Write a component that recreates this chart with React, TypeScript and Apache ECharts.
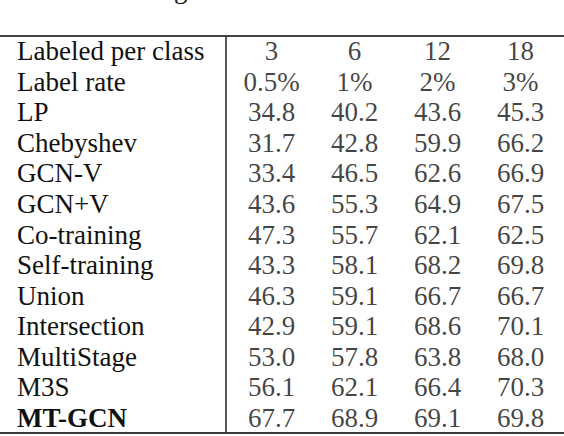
import React, { useEffect, useRef } from "react";
import * as echarts from "echarts";

const headerLabels = ["Labeled per class", "Label rate"];
const methods = [
  "LP",
  "Chebyshev",
  "GCN-V",
  "GCN+V",
  "Co-training",
  "Self-training",
  "Union",
  "Intersection",
  "MultiStage",
  "M3S",
  "MT-GCN",
];
const boldMethods = ["MT-GCN"];
const labeledPerClass = ["3", "6", "12", "18"];
const labelRates = ["0.5%", "1%", "2%", "3%"];

// accuracy per column (labeled per class 3, 6, 12, 18), rows in methods order
const acc3 = [34.8, 31.7, 33.4, 43.6, 47.3, 43.3, 46.3, 42.9, 53.0, 56.1, 67.7];
const acc6 = [40.2, 42.8, 46.5, 55.3, 55.7, 58.1, 59.1, 59.1, 57.8, 62.1, 68.9];
const acc12 = [43.6, 59.9, 62.6, 64.9, 62.1, 68.2, 66.7, 68.6, 63.8, 66.4, 69.1];
const acc18 = [45.3, 66.2, 66.9, 67.5, 62.5, 69.8, 66.7, 70.1, 68.0, 70.3, 69.8];

const FONT = "Liberation Serif";

export default function App() {
  const ref = useRef<HTMLDivElement>(null);

  useEffect(() => {
    if (!ref.current) return;
    const chart = echarts.init(ref.current, undefined, { renderer: "svg" });

    const rowLabels = [...headerLabels, ...methods];
    const columns = [acc3, acc6, acc12, acc18];
    const cells: any[] = [];
    columns.forEach((col, j) => {
      cells.push({ value: [j, 0, labeledPerClass[j]] });
      cells.push({ value: [j, 1, labelRates[j]] });
      col.forEach((v, i) => {
        cells.push({ value: [j, i + 2, v.toFixed(1)] });
      });
    });

    const lineColor = "#3a3a3a";
    const xBase = {
      type: "value",
      min: -3.271,
      max: 3.524,
      axisTick: { show: false },
      axisLabel: { show: false },
      splitLine: { show: false },
    };

    chart.setOption({
      animation: false,
      backgroundColor: "#ffffff",
      graphic: [
        {
          type: "text",
          silent: true,
          style: {
            text: "g",
            x: 174,
            y: -11,
            fontSize: 27,
            fontFamily: FONT,
            fill: "#111",
            textAlign: "left",
            textVerticalAlign: "middle",
          },
        },
      ],
      grid: { left: 0, right: 0, top: 36, bottom: 3, containLabel: false },
      xAxis: [
        {
          ...xBase,
          position: "top",
          axisLine: { show: true, onZero: false, lineStyle: { color: lineColor, width: 1.5 } },
        },
        {
          ...xBase,
          position: "bottom",
          axisLine: { show: true, onZero: false, lineStyle: { color: lineColor, width: 2 } },
        },
      ],
      yAxis: {
        type: "category",
        data: rowLabels,
        inverse: true,
        offset: -226,
        axisLine: { show: true, onZero: false, lineStyle: { color: "#222", width: 1.5 } },
        axisTick: { show: false },
        splitLine: {
          show: true,
          interval: (index: number) => index === 2,
          lineStyle: { color: lineColor, width: 1.5 },
        },
        axisLabel: {
          interval: 0,
          align: "left",
          margin: 209,
          fontSize: 27,
          fontFamily: FONT,
          color: "#111",
          formatter: (v: string) => (boldMethods.includes(v) ? `{b|${v}}` : v),
          rich: {
            b: { fontSize: 27, fontFamily: FONT, fontWeight: "bold", color: "#111" },
          },
        },
      },
      series: [
        {
          type: "scatter",
          xAxisIndex: 0,
          symbolSize: 0,
          data: cells,
          label: {
            show: true,
            position: "inside",
            fontSize: 27,
            fontFamily: FONT,
            color: "#111",
            formatter: (p: any) => p.value[2],
          },
        },
      ],
    });

    return () => chart.dispose();
  }, []);

  return (
    <div
      ref={ref}
      style={{ position: "fixed", left: 0, top: 0, width: 564, height: 436, background: "#fff" }}
    />
  );
}
